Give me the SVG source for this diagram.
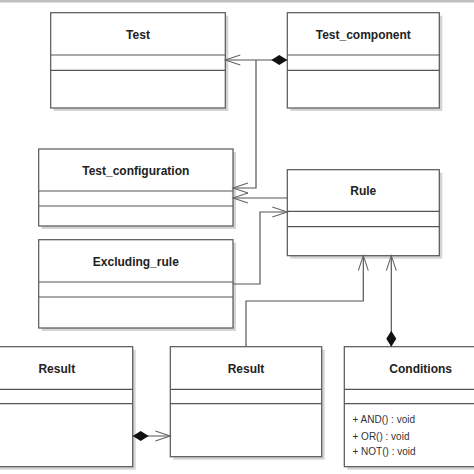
<svg xmlns="http://www.w3.org/2000/svg" width="474" height="474" viewBox="0 0 474 474">
<style>
.box{fill:#fff;stroke:#555;stroke-width:1.2}
.sh{fill:#d4d4d4}
.sep{stroke:#555;stroke-width:1.2}
.t{font-family:"Liberation Sans",Arial,sans-serif;font-weight:bold;font-size:12px;fill:#222;text-anchor:middle}
.m{font-family:"Liberation Sans",Arial,sans-serif;font-size:10px;fill:#333}
.c{fill:none;stroke:#555;stroke-width:1.2}
</style>
<defs>
<marker id="arr" markerUnits="userSpaceOnUse" markerWidth="20" markerHeight="14" viewBox="-16 -7 20 14" refX="0" refY="0" orient="auto">
<path d="M-15,-5 L0,0 L-15,5" fill="none" stroke="#666" stroke-width="1.1"/>
</marker>
<marker id="dia" markerUnits="userSpaceOnUse" markerWidth="20" markerHeight="14" viewBox="-2 -7 20 14" refX="0" refY="0" orient="auto">
<path d="M0,0 L8,-5 L16,0 L8,5 Z" fill="#111"/>
</marker>
</defs>
<rect x="0" y="0" width="474" height="474" fill="#fff"/>
<rect x="0" y="0" width="474" height="2.5" fill="#c0c0c0"/>

<g id="Test">
<rect class="sh" x="53.7" y="15.7" width="174.6" height="95.3"/>
<rect class="box" x="50.7" y="12.7" width="174.6" height="95.3"/>
<line class="sep" x1="50.7" y1="55" x2="225.3" y2="55"/>
<line class="sep" x1="50.7" y1="70.3" x2="225.3" y2="70.3"/>
<text class="t" x="138" y="38.5">Test</text>
</g>

<g id="Test_component">
<rect class="sh" x="290.3" y="15.7" width="152" height="95.3"/>
<rect class="box" x="287.3" y="12.7" width="152" height="95.3"/>
<line class="sep" x1="287.3" y1="55" x2="439.3" y2="55"/>
<line class="sep" x1="287.3" y1="70.3" x2="439.3" y2="70.3"/>
<text class="t" x="363.3" y="38.5">Test_component</text>
</g>

<g id="Test_configuration">
<rect class="sh" x="41.7" y="152" width="194.3" height="77"/>
<rect class="box" x="38.7" y="149" width="194.3" height="77"/>
<line class="sep" x1="38.7" y1="191" x2="233" y2="191"/>
<line class="sep" x1="38.7" y1="206" x2="233" y2="206"/>
<text class="t" x="135.8" y="174.5">Test_configuration</text>
</g>

<g id="Rule">
<rect class="sh" x="290.3" y="172.7" width="152" height="86"/>
<rect class="box" x="287.3" y="169.7" width="152" height="86"/>
<line class="sep" x1="287.3" y1="211.3" x2="439.3" y2="211.3"/>
<line class="sep" x1="287.3" y1="226.7" x2="439.3" y2="226.7"/>
<text class="t" x="363.3" y="195">Rule</text>
</g>

<g id="Excluding_rule">
<rect class="sh" x="41.7" y="242.7" width="194.3" height="88.3"/>
<rect class="box" x="38.7" y="239.7" width="194.3" height="88.3"/>
<line class="sep" x1="38.7" y1="282" x2="233" y2="282"/>
<line class="sep" x1="38.7" y1="297" x2="233" y2="297"/>
<text class="t" x="135.8" y="265.5">Excluding_rule</text>
</g>

<g id="Result_left">
<rect class="sh" x="-16" y="349.7" width="151.7" height="120"/>
<rect class="box" x="-19" y="346.7" width="151.7" height="120"/>
<line class="sep" x1="-19" y1="389.3" x2="132.7" y2="389.3"/>
<line class="sep" x1="-19" y1="403.7" x2="132.7" y2="403.7"/>
<text class="t" x="56.8" y="372.5">Result</text>
</g>

<g id="Result_middle">
<rect class="sh" x="173.3" y="349.7" width="151.4" height="110"/>
<rect class="box" x="170.3" y="346.7" width="151.4" height="110"/>
<line class="sep" x1="170.3" y1="389.3" x2="321.7" y2="389.3"/>
<line class="sep" x1="170.3" y1="403.7" x2="321.7" y2="403.7"/>
<text class="t" x="246" y="372.5">Result</text>
</g>

<g id="Conditions">
<rect class="sh" x="347.3" y="349.7" width="152.7" height="120"/>
<rect class="box" x="344.3" y="346.7" width="152.7" height="120"/>
<line class="sep" x1="344.3" y1="389.3" x2="497" y2="389.3"/>
<line class="sep" x1="344.3" y1="403.7" x2="497" y2="403.7"/>
<text class="t" x="420.7" y="372.5">Conditions</text>
<text class="m" x="352.5" y="423">+ AND() : void</text>
<text class="m" x="352.5" y="439.5">+ OR() : void</text>
<text class="m" x="352.5" y="454.5">+ NOT() : void</text>
</g>

<g id="connectors">
<path class="c" d="M287.3,60 L225.3,60" marker-start="url(#dia)" marker-end="url(#arr)"/>
<path class="c" d="M256,60 L256,188 L233,188" marker-end="url(#arr)"/>
<path class="c" d="M287.3,198 L233,198" marker-end="url(#arr)"/>
<path class="c" d="M233,284 L260,284 L260,212 L287.3,212" marker-end="url(#arr)"/>
<path class="c" d="M246,346.7 L246,301 L363.3,301 L363.3,255.7" marker-end="url(#arr)"/>
<path class="c" d="M391.3,346.7 L391.3,255.7" marker-start="url(#dia)" marker-end="url(#arr)"/>
<path class="c" d="M132.7,436 L170.3,436" marker-start="url(#dia)" marker-end="url(#arr)"/>
</g>
</svg>
